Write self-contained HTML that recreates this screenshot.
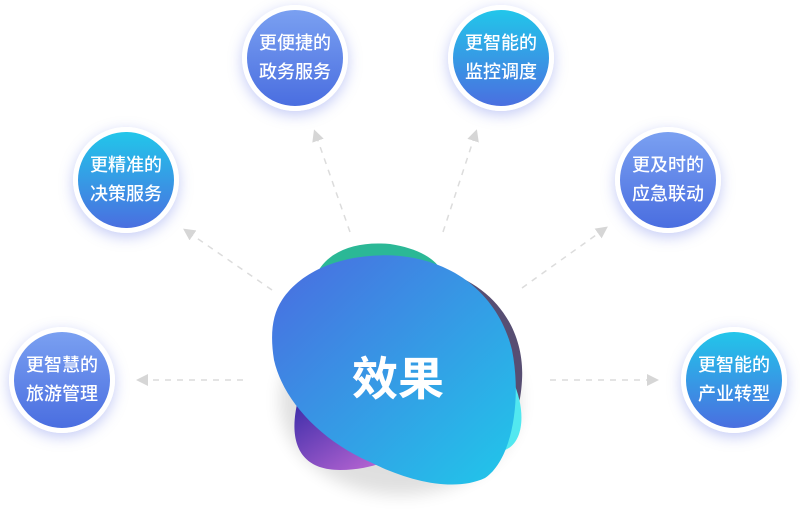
<!DOCTYPE html>
<html><head><meta charset="utf-8"><style>
body{margin:0;width:800px;height:529px;background:#fff;overflow:hidden;position:relative;font-family:"Liberation Sans","Noto Sans CJK SC",sans-serif}
.c{position:absolute;width:96px;height:96px;border-radius:50%;border:5px solid #fff;box-shadow:0 4px 14px rgba(90,110,230,.35);color:#fff;font-size:18px;font-weight:500;line-height:29px;text-align:center;display:flex;align-items:center;justify-content:center}
.a{background:linear-gradient(180deg,#7aa0f1,#4a6ee0)}
.b{background:linear-gradient(180deg,#22c6ea,#4a6fe0)}
</style></head><body>
<svg width="800" height="529" style="position:absolute;left:0;top:0">
<defs>
<marker id="m" markerWidth="8" markerHeight="8" refX="4" refY="4" orient="auto"><path d="M0,0 L8,4 L0,8z" fill="#d6d6d6"/></marker>
<linearGradient id="g1" x1="0" y1="0" x2="1" y2="1"><stop offset="0" stop-color="#4b6be0"/><stop offset="1" stop-color="#20c8ea"/></linearGradient>
<linearGradient id="g2" x1="0" y1="0" x2="1" y2="1"><stop offset="0" stop-color="#3a2ca8"/><stop offset="1" stop-color="#c86cd8"/></linearGradient>
<filter id="sh" x="-20%" y="-20%" width="140%" height="140%"><feGaussianBlur stdDeviation="8"/></filter>
</defs>
<g stroke="#dcdcdc" stroke-width="1.5" stroke-dasharray="6,6" fill="none" marker-end="url(#m)">
<line x1="243" y1="380" x2="142" y2="380"/>
<line x1="550" y1="380" x2="653" y2="380"/>
<line x1="272" y1="290" x2="188" y2="232"/>
<line x1="350" y1="232" x2="316" y2="135"/>
<line x1="443" y1="232" x2="475" y2="135"/>
<line x1="522" y1="288" x2="603" y2="230"/>
</g>
<ellipse cx="400" cy="400" rx="120" ry="95" fill="#000" opacity=".12" filter="url(#sh)"/>
<path d="M310,300 C312,258 345,240 390,244 C430,250 455,270 440,300 L330,340z" fill="#2bb896"/>
<path d="M440,270 C495,285 525,330 522,380 C520,420 505,440 490,440 L440,300z" fill="#574e72"/>
<path d="M500,360 C525,390 530,440 505,450 L470,460z" fill="#52e8f0"/>
<path d="M298,400 C288,440 298,470 340,470 C370,470 390,460 400,455 L330,410z" fill="url(#g2)"/>
<path d="M282,300 C305,265 355,252 400,256 C460,262 500,300 512,350 C522,400 512,460 485,478 C455,492 410,482 370,462 C320,440 283,400 274,360 C270,335 272,315 282,300z" fill="url(#g1)"/>
<text x="398" y="395" fill="#fff" font-size="46" font-weight="bold" text-anchor="middle" font-family="Liberation Sans,Noto Sans CJK SC,sans-serif">效果</text>
</svg>
<div class="c a" style="left:242px;top:5px">更便捷的<br>政务服务</div>
<div class="c b" style="left:448px;top:5px">更智能的<br>监控调度</div>
<div class="c b" style="left:73px;top:127px">更精准的<br>决策服务</div>
<div class="c a" style="left:615px;top:127px">更及时的<br>应急联动</div>
<div class="c a" style="left:9px;top:327px">更智慧的<br>旅游管理</div>
<div class="c b" style="left:681px;top:327px">更智能的<br>产业转型</div>
</body></html>
